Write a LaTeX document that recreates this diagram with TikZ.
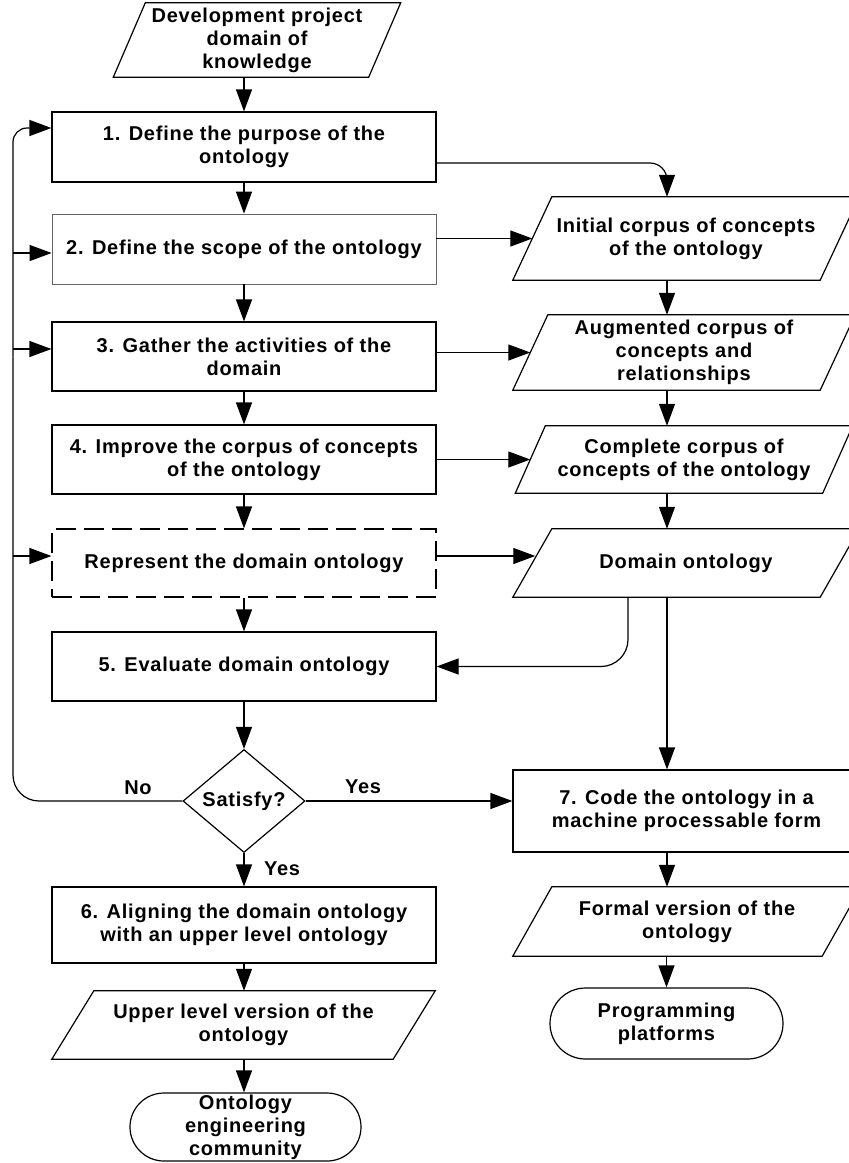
\documentclass[tikz,border=0pt]{standalone}
\usepackage{fontspec}
\setmainfont{Liberation Sans}[LetterSpace=3.8]
\usetikzlibrary{shapes.geometric,shapes.misc,arrows.meta,calc}
\begin{document}
\begin{tikzpicture}[x=1pt,y=-1pt,
  every node/.style={font=\bfseries\fontsize{20}{23}\selectfont, align=center, inner sep=0pt},
  procbox/.style={draw, line width=1.2pt, minimum width=384pt},
  term/.style={draw, line width=1.2pt, rounded rectangle},
  plain/.style={line width=1.2pt},
  conn/.style={line width=1.2pt, -{Triangle[length=22pt,width=16pt]}}
]
\useasboundingbox (0,0) rectangle (849,1163);
\clip (0,0) rectangle (849,1163);

% left column
\node[minimum width=255pt, minimum height=74pt] (dev) at (257,40) {Development project\\domain of\\knowledge};
\node[procbox, minimum height=70pt] (b1) at (244,147) {1. Define the purpose of the\\ontology};
\node[procbox, draw=black!60, line width=0.8pt, minimum height=70pt] (b2) at (244,249) {2. Define the scope of the ontology};
\node[procbox, minimum height=69pt] (b3) at (244,356.5) {3. Gather the activities of the\\domain};
\node[procbox, minimum height=69pt] (b4) at (244,459.5) {4. Improve the corpus of concepts\\of the ontology};
\node[procbox, dash pattern=on 20pt off 8pt, minimum height=68pt] (rep) at (244,563) {Represent the domain ontology};
\node[procbox, minimum height=69pt] (b5) at (244,666.5) {5. Evaluate domain ontology};
\node[draw, diamond, line width=1.2pt, minimum width=122pt, minimum height=103pt, aspect=1.18] (dia) at (244,801) {Satisfy?};
\node[procbox, minimum height=76pt] (b6) at (244,925) {6. Aligning the domain ontology\\with an upper level ontology};
\node[minimum width=341pt, minimum height=68pt] (upper) at (243.5,1025) {Upper level version of the\\ontology};
\node[term, minimum width=231pt, minimum height=68pt] (onto) at (245.5,1127) {Ontology\\engineering\\community};

% right column
\node[minimum width=307pt, minimum height=83pt] (init) at (686,238.5) {Initial corpus of concepts\\of the ontology};
\node[minimum width=307pt, minimum height=75pt] (aug) at (684,352.5) {Augmented corpus of\\concepts and\\relationships};
\node[minimum width=307pt, minimum height=67pt] (comp) at (684,459.5) {Complete corpus of\\concepts of the ontology};
\node[minimum width=307pt, minimum height=68pt] (dom) at (686,563) {Domain ontology};
\node[procbox, minimum width=347pt, minimum height=82pt] (b7) at (686.5,811) {7. Code the ontology in a\\machine processable form};
\node[minimum width=309pt, minimum height=69pt] (formal) at (687,921.5) {Formal version of the\\ontology};
\node[term, minimum width=233pt, minimum height=71pt] (prog) at (666.5,1023.5) {Programming\\platforms};

% labels
\node (no) at (138,788) {No};
\node (yes1) at (363,787) {Yes};
\node (yes2) at (282,869) {Yes};

% parallelogram outlines
\foreach \n/\s in {dev/16, init/19.5, aug/17.5, comp/15, dom/19.5, upper/21, formal/19.5}
  \draw[plain] ([xshift=-\s pt]\n.south west) -- ([xshift=-\s pt]\n.south east) -- ([xshift=\s pt]\n.north east) -- ([xshift=\s pt]\n.north west) -- cycle;

\coordinate (rc) at (667,0);
\coordinate (lx) at (13,0);

% left column arrows
\draw[conn] (dev.south -| b1.north) -- (b1.north);
\draw[conn] (b1.south) -- (b2.north);
\draw[conn] (b2.south) -- (b3.north);
\draw[conn] (b3.south) -- (b4.north);
\draw[conn] (b4.south) -- (rep.north);
\draw[conn] (rep.south) -- (b5.north);
\draw[conn] (b5.south) -- (dia.north);
\draw[conn] (dia.south) -- (b6.north);
\draw[conn] (b6.south) -- (b6.south |- upper.north);
\draw[conn] (b6.south |- upper.south) -- (b6.south |- onto.north);

% right column arrows
\coordinate (r1) at ([yshift=-16pt]b1.east);
\draw[conn, rounded corners=17pt] (r1) -- (r1 -| rc) -- (rc |- init.north);
\draw[conn] (b2.east |- init.west) -- (init.west);
\draw[conn] (b3.east |- aug.west) -- (aug.west);
\draw[conn] (b4.east |- comp.west) -- (comp.west);
\draw[conn] ([yshift=7pt]rep.east) -- ([yshift=7pt, xshift=3pt]dom.west);
\draw[conn] (rc |- init.south) -- (rc |- aug.north);
\draw[conn] (rc |- aug.south) -- (rc |- comp.north);
\draw[conn] (rc |- comp.south) -- (rc |- dom.north);
\draw[conn] (rc |- dom.south) -- (rc |- b7.north);
\coordinate (dsplit) at ([xshift=-58pt]dom.south);
\draw[conn, rounded corners=27pt] (dsplit) -- (dsplit |- b5.east) -- (b5.east);
\draw[conn] (rc |- b7.south) -- (rc |- formal.north);
\draw[conn] (prog.north |- formal.south) -- (prog.north);
\draw[conn] (dia.east) -- (dia.east -| b7.west);

% feedback loop
\coordinate (t1) at ([yshift=19pt]b1.west);
\coordinate (t2) at ([yshift=-4pt]b2.west);
\coordinate (t3) at ([yshift=7.5pt]b3.west);
\coordinate (t5) at ([yshift=7pt]rep.west);
\draw[plain, rounded corners=26pt] (dia.west) -- (dia.west -| lx) -- (lx |- b3.west);
\draw[conn, rounded corners=14pt] (lx |- b3.west) -- (t1 -| lx) -- (t1);
\draw[conn] (t2 -| lx) -- (t2);
\draw[conn] (t3 -| lx) -- (t3);
\draw[conn] (t5 -| lx) -- (t5);
\end{tikzpicture}
\end{document}
